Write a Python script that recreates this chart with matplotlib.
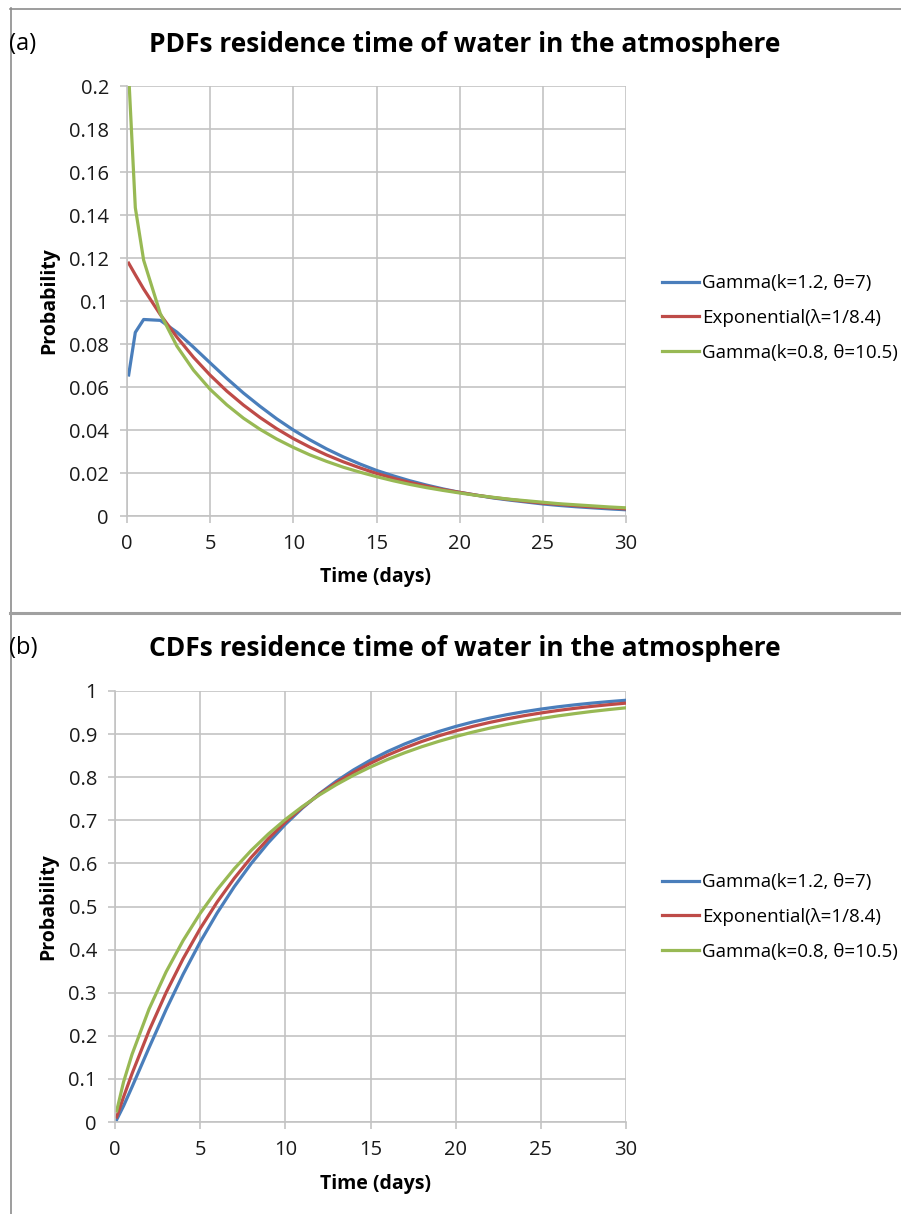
import matplotlib
matplotlib.use("Agg")
import matplotlib.pyplot as plt
from matplotlib.lines import Line2D
from matplotlib.ticker import FuncFormatter, MultipleLocator

# ---------------- data ----------------
days = [0.1, 0.5] + list(range(1, 31))

pdf_gamma12 = [0.0656, 0.0854, 0.0914, 0.0910, 0.0855, 0.0785, 0.0712, 0.0640, 0.0572, 0.0510,
               0.0452, 0.0400, 0.0354, 0.0312, 0.0275, 0.0242, 0.0212, 0.0187, 0.0164, 0.0144,
               0.0126, 0.0110, 0.0097, 0.0084, 0.0074, 0.0065, 0.0056, 0.0049, 0.0043, 0.0038,
               0.0033, 0.0029]
pdf_exp = [0.1176, 0.1122, 0.1056, 0.0937, 0.0832, 0.0738, 0.0655, 0.0581, 0.0516, 0.0458,
           0.0406, 0.0360, 0.0320, 0.0284, 0.0252, 0.0224, 0.0198, 0.0176, 0.0156, 0.0139,
           0.0123, 0.0110, 0.0097, 0.0086, 0.0077, 0.0068, 0.0060, 0.0054, 0.0048, 0.0042,
           0.0038, 0.0033]
pdf_gamma08 = [0.2055, 0.1434, 0.1190, 0.0942, 0.0790, 0.0678, 0.0589, 0.0517, 0.0455, 0.0403,
               0.0358, 0.0319, 0.0284, 0.0254, 0.0227, 0.0204, 0.0183, 0.0164, 0.0147, 0.0132,
               0.0119, 0.0107, 0.0096, 0.0087, 0.0078, 0.0071, 0.0064, 0.0057, 0.0052, 0.0047,
               0.0042, 0.0038]

cdf_gamma12 = [0.0055, 0.0371, 0.0813, 0.1725, 0.2608, 0.3428, 0.4176, 0.4852, 0.5458, 0.5999,
               0.6480, 0.6906, 0.7283, 0.7616, 0.7910, 0.8168, 0.8395, 0.8595, 0.8770, 0.8924,
               0.9059, 0.9177, 0.9281, 0.9371, 0.9450, 0.9519, 0.9580, 0.9633, 0.9679, 0.9719,
               0.9754, 0.9785]
cdf_exp = [0.0118, 0.0578, 0.1122, 0.2119, 0.3003, 0.3789, 0.4486, 0.5105, 0.5654, 0.6141,
           0.6575, 0.6959, 0.7301, 0.7604, 0.7872, 0.8111, 0.8323, 0.8511, 0.8678, 0.8827,
           0.8958, 0.9075, 0.9179, 0.9271, 0.9353, 0.9426, 0.9490, 0.9548, 0.9598, 0.9643,
           0.9683, 0.9719]
cdf_gamma08 = [0.0259, 0.0925, 0.1569, 0.2622, 0.3483, 0.4211, 0.4841, 0.5391, 0.5875, 0.6302,
               0.6681, 0.7018, 0.7319, 0.7588, 0.7828, 0.8044, 0.8237, 0.8411, 0.8566, 0.8706,
               0.8831, 0.8944, 0.9046, 0.9138, 0.9220, 0.9294, 0.9361, 0.9422, 0.9476, 0.9526,
               0.9570, 0.9610]

labels = ["Gamma(k=1.2, θ=7)", "Exponential(λ=1/8.4)", "Gamma(k=0.8, θ=10.5)"]
colors = ["#4a7ebb", "#be4b48", "#98b954"]

# ---------------- layout ----------------
W, H = 901, 1214
plt.rcParams['font.family'] = ['Open Sans', 'DejaVu Sans']
fig = plt.figure(figsize=(W / 100, H / 100), dpi=100)
fig.patch.set_facecolor("white")


def fx(px):
    return px / W


def fy(py):
    return 1 - py / H


def make_axes(x0, x1, ytop, ybot):
    return fig.add_axes([fx(x0), fy(ybot), fx(x1) - fx(x0), (ybot - ytop) / H])


grid_c = "#c3c3c3"
fmt = FuncFormatter(lambda v, p: f"{v:g}")


def style(ax, ymax, ystep):
    ax.set_xlim(0, 30)
    ax.set_ylim(0, ymax)
    ax.xaxis.set_major_locator(MultipleLocator(5))
    ax.yaxis.set_major_locator(MultipleLocator(ystep))
    ax.yaxis.set_major_formatter(fmt)
    ax.grid(True, color=grid_c, lw=1.2)
    ax.set_axisbelow(True)
    for s in ["top", "right"]:
        ax.spines[s].set_visible(False)
    for s in ["left", "bottom"]:
        ax.spines[s].set_color(grid_c)
        ax.spines[s].set_linewidth(1.2)
    ax.tick_params(direction="out", length=5, width=1.2, color=grid_c,
                   labelsize=14.5, labelcolor="#1a1a1a", pad=8)
    ax.set_ylabel("Probability", fontsize=14, fontweight="bold", labelpad=7)
    ax.set_xlabel("Time (days)", fontsize=14, fontweight="bold")


leg_kw = dict(loc="center left", bbox_transform=fig.transFigure, frameon=False,
              fontsize=13.5, handlelength=1.95, handletextpad=0.18, labelspacing=0.9,
              borderaxespad=0, borderpad=0)

# Panel (a)
ax1 = make_axes(127, 626, 86, 516)
for y, c, l in zip([pdf_gamma12, pdf_exp, pdf_gamma08], colors, labels):
    ax1.plot(days, y, color=c, lw=2.3, label=l)
style(ax1, 0.2, 0.02)
ax1.xaxis.set_label_coords((375 - 127) / (626 - 127), -(567 - 516) / (516 - 86))
ax1.legend(bbox_to_anchor=(fx(662), fy(318)), **leg_kw)

# Panel (b)
ax2 = make_axes(115, 626, 691, 1122)
for y, c, l in zip([cdf_gamma12, cdf_exp, cdf_gamma08], colors, labels):
    ax2.plot(days, y, color=c, lw=2.3, label=l)
style(ax2, 1.0, 0.1)
ax2.xaxis.set_label_coords((375 - 115) / (626 - 115), -(1174 - 1122) / (1122 - 691))
ax2.legend(bbox_to_anchor=(fx(662), fy(917)), **leg_kw)

# titles and panel labels
fig.text(fx(465), fy(45), "PDFs residence time of water in the atmosphere",
         ha="center", va="center", fontsize=19, fontweight="bold")
fig.text(fx(465), fy(648), "CDFs residence time of water in the atmosphere",
         ha="center", va="center", fontsize=19, fontweight="bold")
fig.text(fx(9), fy(44), "(a)", ha="left", va="center", fontsize=17)
fig.text(fx(9), fy(648), "(b)", ha="left", va="center", fontsize=17)

# frame lines
fig.add_artist(Line2D([fx(10), 1], [fy(8.5), fy(8.5)], color="#8c8c8c", lw=1.2))
fig.add_artist(Line2D([fx(10.5), fx(10.5)], [fy(8), 0], color="#8c8c8c", lw=1.2))
fig.add_artist(Line2D([fx(10), 1], [fy(613), fy(613)], color="#a0a0a0", lw=2.2))

fig.savefig("out.png", dpi=100, facecolor="white")
